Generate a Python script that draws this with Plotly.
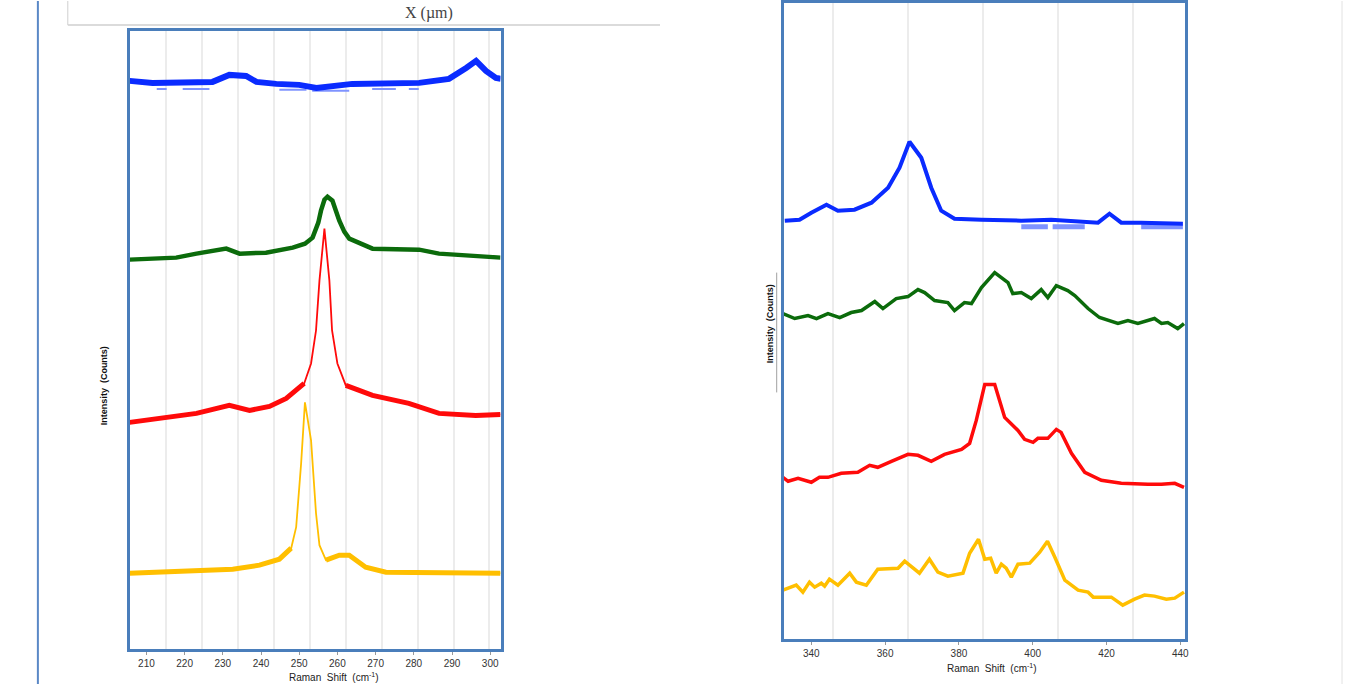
import plotly.graph_objects as go

# ---------------- data: left panel (Raman shift, cm-1 / intensity, a.u.) -------------
L_blue_x = [205.6, 211.6, 227.3, 231.7, 236.1, 238.8, 244.0, 250.0, 254.5, 258.0, 263.9, 281.4, 289.2, 293.7, 296.3, 298.9, 301.5, 302.8]
L_blue_y = [570, 568, 569, 576, 575, 569, 567, 566, 563, 565, 567, 568, 572, 583, 590, 580, 573, 572]
L_blue2_x = [212.7, 215.3, None, 219.5, 226.5, None, 244.8, 251.9, None, 253.4, 263.1, None, 269.1, 275.3, None, 278.7, 281.3]
L_blue2_y = [562, 562, None, 562, 562, None, 561, 561, None, 560, 560, None, 562, 562, None, 562, 562]

L_green_x = [205.6, 217.8, 223.1, 230.9, 234.4, 241.3, 248.3, 251.5, 253.5, 255.0, 255.7, 256.6, 257.4, 258.7, 259.6, 260.5, 261.8, 263.1, 269.2, 281.4, 286.6, 298.8, 302.7]
L_green_y = [391, 393, 397, 402, 397, 398, 403, 407, 413, 428, 440, 451, 454, 450, 440, 430, 419, 412, 402, 401, 397, 394, 393]

L_red_x = [205.6, 214.3, 223.1, 231.7, 237.0, 242.2, 246.6, 251.3, 253.1, 254.4, 255.3, 256.6, 257.9, 258.6, 260.0, 262.2, 269.2, 278.7, 286.6, 296.2, 302.7]
L_red_y = [228, 232, 237, 245, 240, 244, 252, 267, 287, 320, 370, 422, 370, 320, 287, 265, 255, 247, 237, 235, 236]

L_yel_x = [205.6, 216.1, 232.6, 239.6, 244.8, 247.9, 249.2, 250.5, 251.5, 253.1, 254.4, 255.3, 257.0, 260.5, 263.1, 267.4, 272.7, 285.7, 286.6, 302.7]
L_yel_y = [77, 79, 81, 85, 91, 102, 123, 187, 248, 210, 137, 105, 90, 95, 95, 83, 78, 78, 77, 77]

# ---------------- data: right panel -------------
R_blue_x = [332.8, 336.8, 340.0, 344.1, 347.2, 351.7, 356.3, 360.8, 363.9, 366.6, 369.8, 372.5, 375.2, 378.8, 386.1, 396.9, 405.0, 417.7, 420.8, 424.0, 429.4, 440.7]
R_blue_y = [420, 421, 428, 436, 430, 431, 438, 453, 473, 499, 483, 453, 430, 422, 421, 420, 421, 418, 427, 418, 418, 417]
R_blue2_x = [396.9, 404.1, None, 405.4, 414.1, None, 429.4, 440.7]
R_blue2_y = [414, 414, None, 414, 414, None, 414, 414]

R_green_x = [332.3, 335.5, 339.1, 341.4, 344.5, 347.7, 350.8, 353.6, 357.2, 359.4, 363.0, 366.2, 368.9, 370.7, 373.4, 377.0, 378.8, 381.5, 383.4, 386.1, 389.7, 393.3, 394.6, 396.9, 399.6, 402.3, 404.1, 406.4, 409.5, 411.4, 415.0, 418.1, 423.1, 425.8, 428.5, 433.0, 434.9, 436.6, 439.3, 441.0]
R_green_y = [327, 322, 325, 322, 327, 323, 328, 330, 339, 332, 342, 344, 351, 348, 340, 338, 330, 338, 337, 353, 368, 358, 347, 348, 342, 351, 343, 355, 350, 345, 332, 323, 317, 320, 317, 322, 317, 318, 312, 317]

R_red_x = [332.3, 333.7, 336.4, 340.0, 342.2, 344.5, 348.1, 352.6, 355.8, 358.0, 361.7, 366.2, 368.9, 372.5, 376.1, 380.7, 382.9, 384.7, 387.0, 389.7, 392.4, 396.0, 397.8, 400.1, 401.4, 404.1, 406.4, 407.7, 410.5, 414.1, 418.6, 424.0, 431.2, 434.9, 438.5, 441.0]
R_red_y = [163, 159, 162, 158, 163, 163, 167, 168, 175, 173, 179, 186, 185, 179, 186, 191, 197, 220, 256, 256, 223, 210, 201, 198, 202, 202, 211, 208, 187, 168, 160, 157, 156, 156, 157, 153]

R_yel_x = [332.3, 335.9, 337.7, 339.5, 340.9, 342.7, 343.6, 344.9, 347.2, 350.4, 352.2, 354.9, 358.0, 363.5, 365.3, 369.3, 372.0, 374.3, 377.0, 381.1, 382.9, 385.3, 387.0, 388.6, 390.1, 391.5, 392.8, 394.2, 396.0, 399.2, 401.9, 404.0, 406.0, 408.7, 412.3, 415.0, 416.4, 421.3, 424.4, 427.6, 430.3, 433.0, 436.2, 438.5, 441.0]
R_yel_y = [50, 55, 48, 58, 53, 57, 54, 61, 55, 67, 58, 55, 71, 72, 79, 67, 81, 68, 64, 67, 87, 101, 81, 82, 67, 76, 72, 63, 76, 77, 88, 99, 83, 60, 50, 48, 43, 43, 35, 41, 45, 44, 41, 42, 48]

L_ticks = [210, 220, 230, 240, 250, 260, 270, 280, 290, 300]
R_ticks = [340, 360, 380, 400, 420, 440]

# ---------------- styling -------------
BLUE = "#0a2bff"
LBLUE = "#7f93ff"
GREEN = "#0b6b0b"
RED = "#ff0a0a"
YEL = "#ffbf00"
FRAME = "#4a7ebb"
GRID = "#ececec"
W, H = 1348, 684


def thick_part(xs, ys, lo, hi):
    return [None if (lo < x < hi) else y for x, y in zip(xs, ys)]


fig = go.Figure()


def add(x, y, color, width, xa, ya):
    fig.add_trace(go.Scatter(x=x, y=y, mode="lines", line=dict(color=color, width=width),
                             xaxis=xa, yaxis=ya, showlegend=False, hoverinfo="skip",
                             connectgaps=False))


# left panel
add(L_blue2_x, L_blue2_y, LBLUE, 2, "x", "y")
add(L_blue_x, L_blue_y, BLUE, 6, "x", "y")
add(L_green_x, L_green_y, GREEN, 4.5, "x", "y")
add(L_red_x, L_red_y, RED, 1.8, "x", "y")
add(L_red_x, thick_part(L_red_x, L_red_y, 252.5, 260.5), RED, 5, "x", "y")
add(L_yel_x, L_yel_y, YEL, 1.8, "x", "y")
add(L_yel_x, thick_part(L_yel_x, L_yel_y, 248.5, 256.0), YEL, 5, "x", "y")

# right panel
add(R_blue2_x, R_blue2_y, LBLUE, 5, "x2", "y2")
add(R_blue_x, R_blue_y, BLUE, 4, "x2", "y2")
add(R_green_x, R_green_y, GREEN, 3.5, "x2", "y2")
add(R_red_x, R_red_y, RED, 3.5, "x2", "y2")
add(R_yel_x, R_yel_y, YEL, 3.5, "x2", "y2")

tickfont = dict(family="Liberation Sans, Arial", size=10, color="#333333")
xcommon = dict(showline=True, linecolor=FRAME, linewidth=3, mirror=True, showgrid=False,
               zeroline=False, ticks="outside", ticklen=3, tickcolor="#999999",
               tickfont=tickfont, fixedrange=True)
ycommon = dict(showline=True, linecolor=FRAME, linewidth=3, mirror=True, showgrid=False,
               zeroline=False, showticklabels=False, ticks="", fixedrange=True)

fig.update_layout(
    width=W, height=H, margin=dict(l=0, r=0, t=0, b=0),
    paper_bgcolor="white", plot_bgcolor="white",
    xaxis=dict(domain=[130 / W, 502 / W], range=[205.6, 302.7], tickvals=L_ticks,
               minor=dict(tick0=215.2, dtick=9.4, showgrid=True, gridcolor=GRID, gridwidth=1.5, ticks=""),
               anchor="y", **xcommon),
    yaxis=dict(domain=[1 - 649 / H, 1 - 30 / H], range=[1, 620], anchor="x", **ycommon),
    xaxis2=dict(domain=[786 / W, 1189 / W], range=[332.5, 441.4], tickvals=R_ticks,
                minor=dict(tick0=345.8, dtick=20.33, showgrid=True, gridcolor=GRID, gridwidth=1.5, ticks=""),
                anchor="y2", **xcommon),
    yaxis2=dict(domain=[1 - 639 / H, 1 - 2.5 / H], range=[1, 637.5], anchor="x2", **ycommon),
)

# decorative document elements
shapes = [
    dict(type="line", xref="paper", yref="paper", x0=38 / W, x1=38 / W, y0=0, y1=1,
         line=dict(color="#5a88c6", width=2)),
    dict(type="line", xref="paper", yref="paper", x0=1346 / W, x1=1346 / W, y0=0, y1=1,
         line=dict(color="#e2e2e2", width=1)),
    dict(type="line", xref="paper", yref="paper", x0=68 / W, x1=68 / W, y0=1 - 24 / H, y1=1,
         line=dict(color="#cfcfcf", width=1)),
    dict(type="line", xref="paper", yref="paper", x0=68 / W, x1=662 / W, y0=1 - 24 / H, y1=1 - 24 / H,
         line=dict(color="#cfcfcf", width=1.5)),
    dict(type="line", xref="paper", yref="paper", x0=779 / W, x1=779 / W, y0=1 - 392 / H, y1=1 - 272 / H,
         line=dict(color="#a0a0a0", width=1)),
]
fig.update_layout(shapes=shapes)

titlefont = dict(family="Liberation Sans, Arial", size=10, color="#222222")
ann = [
    dict(text="X (µm)", x=430 / W, y=1 - 1 / H, xref="paper", yref="paper", showarrow=False,
         xanchor="center", yanchor="top", font=dict(family="Liberation Serif, Times New Roman", size=16, color="#444444")),
    dict(text="Raman  Shift  (cm<sup>-1</sup>)", x=335 / W, y=1 - 677 / H, xref="paper", yref="paper",
         showarrow=False, xanchor="center", yanchor="middle", font=titlefont),
    dict(text="Raman  Shift  (cm<sup>-1</sup>)", x=995 / W, y=1 - 668 / H, xref="paper", yref="paper",
         showarrow=False, xanchor="center", yanchor="middle", font=titlefont),
    dict(text="<b>Intensity  (Counts)</b>", x=105 / W, y=1 - 385 / H, xref="paper", yref="paper",
         showarrow=False, xanchor="center", yanchor="middle", textangle=-90,
         font=dict(family="Liberation Sans, Arial", size=9, color="#111111")),
    dict(text="<b>Intensity  (Counts)</b>", x=772 / W, y=1 - 323 / H, xref="paper", yref="paper",
         showarrow=False, xanchor="center", yanchor="middle", textangle=-90,
         font=dict(family="Liberation Sans, Arial", size=9, color="#111111")),
]
fig.update_layout(annotations=ann)

fig.write_html("out.html", include_plotlyjs=True, config={"displayModeBar": False},
               post_script="document.body.style.margin='0';document.body.style.overflow='hidden';")
